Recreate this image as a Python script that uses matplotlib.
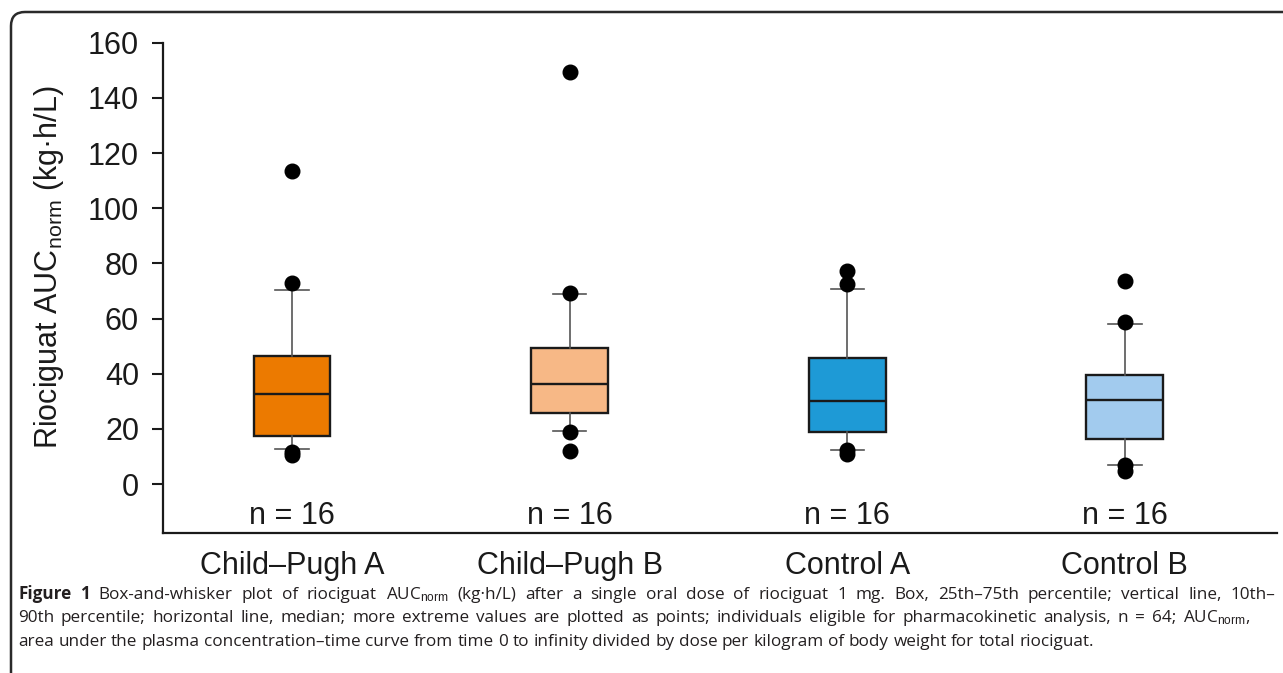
import numpy as np
import matplotlib
matplotlib.use('Agg')
import matplotlib.pyplot as plt
from matplotlib.patches import FancyBboxPatch
from matplotlib.transforms import IdentityTransform

plt.rcParams['font.family'] = ['Liberation Sans', 'DejaVu Sans']
plt.rcParams['mathtext.fontset'] = 'custom'
plt.rcParams['mathtext.rm'] = 'Liberation Sans'
plt.rcParams['mathtext.it'] = 'Liberation Sans:italic'

# ---------------- valores ----------------
grupos = ['Child–Pugh A', 'Child–Pugh B', 'Control A', 'Control B']
n_grupo = [16, 16, 16, 16]
q1 = [17.4, 25.7, 19.0, 16.3]
mediana = [32.7, 36.2, 30.1, 30.4]
q3 = [46.3, 49.5, 45.7, 39.7]
p10 = [12.7, 19.1, 12.5, 7.0]
p90 = [70.5, 68.9, 70.9, 57.9]
pontos = [
    [113.4, 72.8, 11.8, 10.6],
    [149.3, 69.3, 18.8, 12.2],
    [77.2, 72.5, 12.4, 10.8],
    [73.6, 58.7, 7.0, 4.8],
]
cores = ['#EC7A00', '#F7B886', '#1E9AD6', '#A2CBEE']

legenda = [
    'Figure 1 Box-and-whisker plot of riociguat AUC$_{\\mathrm{norm}}$ (kg·h/L) after a single oral '
    'dose of riociguat 1 mg. Box, 25th–75th percentile; vertical line, 10th–',
    '90th percentile; horizontal line, median; more extreme values are plotted as points; '
    'individuals eligible for pharmacokinetic analysis, n = 64; AUC$_{\\mathrm{norm}}$,',
    'area under the plasma concentration–time curve from time 0 to infinity divided by dose '
    'per kilogram of body weight for total riociguat.',
]

# ---------------- figura ----------------
W, H = 1283, 673
fig = plt.figure(figsize=(W / 100, H / 100), dpi=100)
ax = fig.add_axes([0.1268, 0.208, 0.8685, 0.7286])

stats = []
for i in range(len(grupos)):
    stats.append(dict(med=mediana[i], q1=q1[i], q3=q3[i],
                      whislo=p10[i], whishi=p90[i],
                      fliers=np.array(pontos[i]), label=grupos[i]))

pos = np.arange(1, len(grupos) + 1)
bp = ax.bxp(stats, positions=pos, widths=0.277, patch_artist=True,
            capwidths=0.12,
            boxprops=dict(linewidth=1.7, edgecolor='#1a1a1a'),
            medianprops=dict(color='#1a1a1a', linewidth=1.7),
            whiskerprops=dict(color='#555555', linewidth=1.2),
            capprops=dict(color='#555555', linewidth=1.2),
            flierprops=dict(marker='o', markerfacecolor='black',
                            markeredgecolor='black', markersize=10.5,
                            linestyle='none'))
for caixa, c in zip(bp['boxes'], cores):
    caixa.set_facecolor(c)
for f in bp['fliers']:
    f.set_zorder(5)

for p, n in zip(pos, n_grupo):
    ax.text(p, -11.6, f'n = {n}', ha='center', va='center', fontsize=22,
            color='#1a1a1a')

ax.set_xlim(0.534, 4.548)
ax.set_ylim(-17.7, 160)
ax.set_yticks(np.arange(0, 161, 20))
ax.set_xticks(pos)
ax.set_xticklabels(grupos)
ax.tick_params(axis='y', length=8, width=1.5, labelsize=22, pad=9,
               colors='#1a1a1a')
ax.tick_params(axis='x', length=0, labelsize=22, pad=13, colors='#1a1a1a')
for lado in ['top', 'right']:
    ax.spines[lado].set_visible(False)
for lado in ['left', 'bottom']:
    ax.spines[lado].set_linewidth(1.6)
    ax.spines[lado].set_color('#1a1a1a')

ax.set_ylabel('Riociguat AUC$_{\\mathrm{norm}}$ (kg·h/L)', fontsize=22,
              color='#1a1a1a')
ax.yaxis.set_label_coords(-0.087, 0.542)

# moldura com canto arredondado
moldura = FancyBboxPatch((11, -40), 1400, 661 + 40,
                         boxstyle='round,pad=0,rounding_size=14',
                         transform=IdentityTransform(), fill=False,
                         linewidth=1.8, edgecolor='#2a2a2a')
fig.add_artist(moldura)

# legenda da figura (texto justificado nas duas primeiras linhas)
fonte_leg = ['Open Sans', 'DejaVu Sans']
tam = 12.3
x_ini = 18
linhas_y = [599, 622.5, 646]
linhas_fim = [1275, 1250, None]

renderer = fig.canvas.get_renderer()
for k, (txt, yl, xf) in enumerate(zip(legenda, linhas_y, linhas_fim)):
    palavras = txt.split(' ')
    arts = []
    for j, w in enumerate(palavras):
        peso = 'bold' if (k == 0 and j < 2) else 'normal'
        arts.append(fig.text(0, 1 - yl / H, w, fontsize=tam, fontweight=peso,
                             family=fonte_leg, va='baseline',
                             color='#231f20'))
    larg = [a.get_window_extent(renderer).width for a in arts]
    if xf is None:
        espaco = arts[0].get_fontsize() * 100 / 72 * 0.26
    else:
        espaco = (xf - x_ini - sum(larg)) / (len(arts) - 1)
    x = x_ini
    for a, w in zip(arts, larg):
        a.set_x(x / W)
        x += w + espaco

fig.savefig('out.png', dpi=100)
